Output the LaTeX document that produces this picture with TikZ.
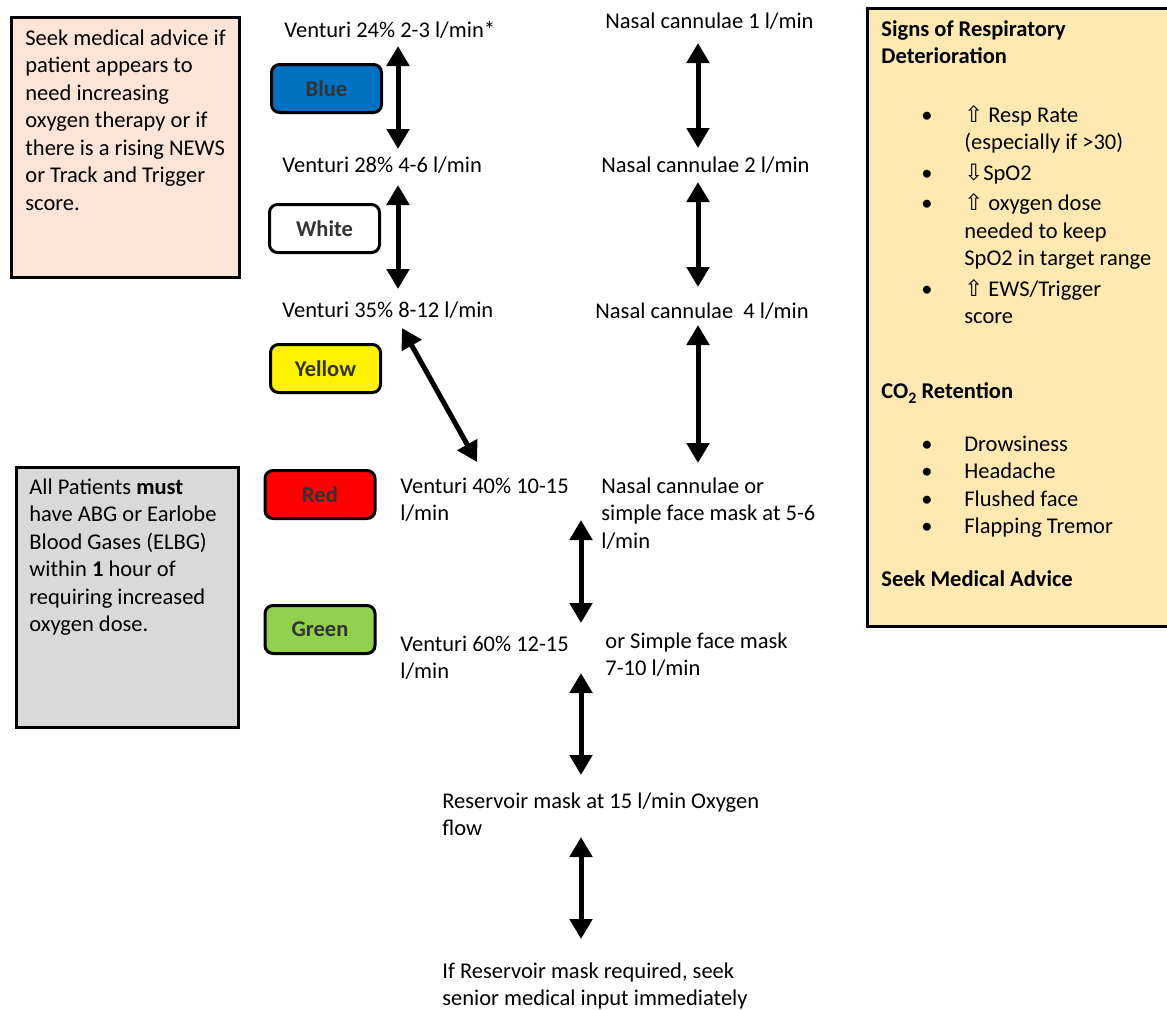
\documentclass[tikz,border=0pt]{standalone}
\usepackage{fontspec}
\setmainfont{Carlito}
\newfontfamily\symfont{DejaVu Sans}
\usetikzlibrary{calc,positioning,arrows.meta,shapes}
\definecolor{peach}{RGB}{252,228,214}
\definecolor{abggray}{RGB}{217,217,217}
\definecolor{signyellow}{RGB}{254,233,178}
\definecolor{tagblue}{RGB}{0,112,192}
\definecolor{taggreen}{RGB}{146,208,80}
\tikzset{
>={Triangle[length=10pt,width=11pt]},
colourtag/.style={ rectangle, rounded corners=4pt, draw=black, line width=1.5pt, minimum width=55pt, minimum height=24pt, text=black!80, font=\bfseries},
infobox/.style={ rectangle, draw=black, line width=1.5pt, anchor=north west, inner sep=0pt},
flowtext/.style={inner sep=0pt, anchor=base west, align=left},
link/.style={draw, line width=2.5pt, <->},
}

\begin{document}
\fontsize{11.25}{13.75}\selectfont
\begin{tikzpicture}
[x=0.5pt, y=-0.5pt]
\useasboundingbox (0,0) rectangle (1167,1009);

% side boxes (multi-line texts sit on the baseline of their last line)
\node[infobox, fill=peach, minimum width=114pt, minimum height=130pt] (advice) at (9.5,15.5) {};
\node[flowtext] (advicetext) at (25,210) {Seek medical advice if\\patient appears to\\need increasing\\oxygen therapy or if\\there is a rising NEWS\\or Track and Trigger\\score.};

\node[infobox, fill=abggray, minimum width=111pt, minimum height=130pt] (abg) at (14.5,465.5) {};
\node[flowtext] (abgtext) at (29,631.5) {All Patients \textbf{must}\\have ABG or Earlobe\\Blood Gases (ELBG)\\within \textbf{1} hour of\\requiring increased\\oxygen dose.};

\node[infobox, fill=signyellow, minimum width=160pt, minimum height=308.75pt] (signs) at (865.5,7) {};
\node[flowtext, font=\bfseries] (signtitle) at (881,63.5) {Signs of Respiratory\\Deterioration};
\node[flowtext] (signlist) at (881,122) {\begin{tabular}[t]{@{\hspace{20pt}}p{21.5pt}@{}l@{}}
\textbullet & {\symfont ⇧} Resp Rate\\
 & (especially if >30)\\[1.5pt]
\textbullet & {\symfont ⇩}SpO2\\[1.5pt]
\textbullet & {\symfont ⇧} oxygen dose\\
 & needed to keep\\
 & SpO2 in target range\\[1.5pt]
\textbullet & {\symfont ⇧} EWS/Trigger\\
 & score
\end{tabular}};
\node[flowtext, font=\bfseries] (co2title) at (881,398) {CO\raisebox{-2.5pt}{\footnotesize 2} Retention};
\node[flowtext] (co2list) at (881,451) {\begin{tabular}[t]{@{\hspace{20pt}}p{21.5pt}@{}l@{}}
\textbullet & Drowsiness\\
\textbullet & Headache\\
\textbullet & Flushed face\\
\textbullet & Flapping Tremor
\end{tabular}};
\node[flowtext, font=\bfseries] (seek) at (881,586) {Seek Medical Advice};

% colour tags
\node[colourtag, fill=tagblue] (blue) at (326.5,88.5) {Blue};
\node[colourtag, fill=white] (white) at (324.5,228.5) {White};
\node[colourtag, fill=yellow] (yellow) at (325.5,368.5) {Yellow};
\node[colourtag, fill=red] (red) at (320,494.5) {Red};
\node[colourtag, fill=taggreen] (green) at (320,629.5) {Green};

% venturi steps
\node[flowtext] (v24) at (284,37) {Venturi 24\% 2-3 l/min*};
\node[flowtext] (v28) at (282,172) {Venturi 28\% 4-6 l/min};
\node[flowtext] (v35) at (282,317) {Venturi 35\% 8-12 l/min};
\node[flowtext] (v40) at (400,520.5) {Venturi 40\% 10-15\\l/min};
\node[flowtext] (v60) at (400,678.5) {Venturi 60\% 12-15\\l/min};

% nasal and mask steps
\node[flowtext] (nc1) at (605,28) {Nasal cannulae 1 l/min};
\node[flowtext] (nc2) at (601,172) {Nasal cannulae 2 l/min};
\node[flowtext] (nc4) at (595,318) {Nasal cannulae\ \ 4 l/min};
\node[flowtext] (nc5) at (601,548) {Nasal cannulae or\\simple face mask at 5-6\\l/min};
\node[flowtext] (sfm) at (605,675.5) {or Simple face mask\\7-10 l/min};
\node[flowtext] (res) at (442,835.5) {Reservoir mask at 15 l/min Oxygen\\flow};
\node[flowtext] (senior) at (442,1005.5) {If Reservoir mask required, seek\\senior medical input immediately};

\coordinate (vcol) at (398,0);
\coordinate (ncol) at (698,0);
\coordinate (mcol) at (581,0);

\draw[link] ($(v24.base -| vcol)+(0,9)$) -- ($(v28.base -| vcol)+(0,-23)$);
\draw[link] ($(v28.base -| vcol)+(0,13)$) -- ($(v35.base -| vcol)+(0,-28)$);
\draw[link] ($(v35.base west)+(120,11)$) -- ($(v40.base west)+(77,-58.5)$);

\draw[link] ($(nc1.base -| ncol)+(0,15)$) -- ($(nc2.base -| ncol)+(0,-24)$);
\draw[link] ($(nc2.base -| ncol)+(0,10)$) -- ($(nc4.base -| ncol)+(0,-31)$);
\draw[link] ($(nc4.base -| ncol)+(0,7)$) -- ($(nc5.base -| ncol)+(0,-85)$);

\draw[link] ($(nc5.base -| mcol)+(0,-28)$) -- ($(sfm.base -| mcol)+(0,-52.5)$);
\draw[link] ($(sfm.base -| mcol)+(0,-2.5)$) -- ($(res.base -| mcol)+(0,-60.5)$);
\draw[link] ($(res.base -| mcol)+(0,1.5)$) -- ($(senior.base -| mcol)+(0,-66.5)$);

\end{tikzpicture}
\end{document}
